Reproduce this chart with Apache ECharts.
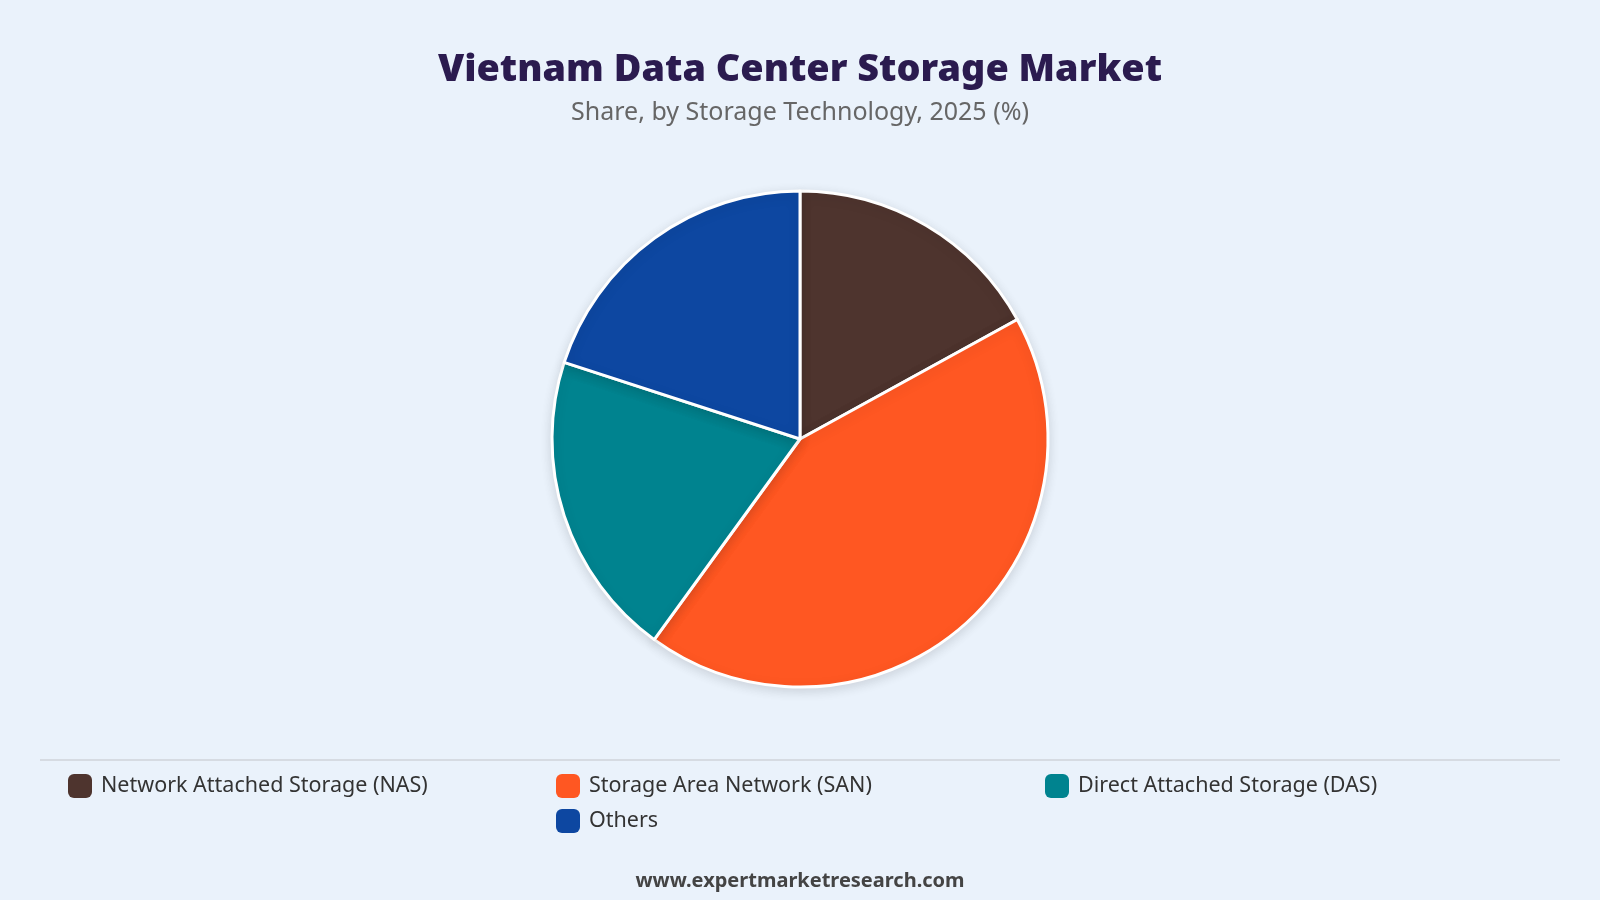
<!DOCTYPE html>
<html>
<head>
<meta charset="utf-8">
<style>
  html, body { margin: 0; padding: 0; background: #eaf2fb; }
  #chart { width: 1600px; height: 900px; }
</style>
<script src="https://cdn.jsdelivr.net/npm/echarts@6/dist/echarts.min.js"></script>
</head>
<body>
<div id="chart"></div>
<script>
  // share by storage technology, 2025 (%)
  const categories = [
    'Network Attached Storage (NAS)',
    'Storage Area Network (SAN)',
    'Direct Attached Storage (DAS)',
    'Others'
  ]
  const shares = [17, 43, 20, 20]
  const colors = ['#4e342e', '#ff5722', '#00838f', '#0d47a1']

  const FONT = '"Noto Sans", "Open Sans", sans-serif'

  // legend placement: 3 columns, wrap onto a second row
  const legendSlots = [
    { left: 68, top: 774 },
    { left: 556, top: 774 },
    { left: 1045, top: 774 },
    { left: 556, top: 809 }
  ]

  const chart = echarts.init(document.getElementById('chart'))

  const legends = categories.map((name, i) => ({
    data: [name],
    left: legendSlots[i].left,
    top: legendSlots[i].top,
    padding: 0,
    icon: 'roundRect',
    itemWidth: 24,
    itemHeight: 24,
    itemGap: 10,
    selectedMode: false,
    itemStyle: { borderWidth: 0, shadowBlur: 0 },
    textStyle: { fontFamily: FONT, fontSize: 21.5, color: '#333', padding: [0, 0, 0, 4] }
  }))

  chart.setOption({
    backgroundColor: '#eaf2fb',
    color: colors,
    title: [
      {
        text: 'Vietnam Data Center Storage Market',
        left: 'center',
        top: 46,
        textStyle: { fontFamily: FONT, fontSize: 37.8, fontWeight: 900, color: '#2b1b4f' }
      },
      {
        text: 'Share, by Storage Technology, 2025 (%)',
        left: 'center',
        top: 95,
        textStyle: { fontFamily: FONT, fontSize: 25, fontWeight: 'normal', color: '#666' }
      },
      {
        text: 'www.expertmarketresearch.com',
        left: 'center',
        top: 866,
        textStyle: { fontFamily: FONT, fontSize: 20, fontWeight: 'bold', color: '#444' }
      }
    ],
    legend: legends,
    graphic: [{
      type: 'line',
      shape: { x1: 40, y1: 760, x2: 1560, y2: 760 },
      style: { stroke: '#d6dbe2', lineWidth: 2 }
    }],
    series: [{
      type: 'pie',
      center: [800, 439],
      radius: ['0%', 248],
      startAngle: 90,
      clockwise: true,
      label: { show: false },
      labelLine: { show: false },
      silent: true,
      itemStyle: {
        borderColor: '#fff',
        borderWidth: 3,
        shadowBlur: 12,
        shadowColor: 'rgba(0, 0, 0, 0.12)',
        shadowOffsetY: 3
      },
      data: categories.map((name, i) => ({ name, value: shares[i] }))
    }]
  })

  window.addEventListener('resize', () => chart.resize())
</script>
</body>
</html>
